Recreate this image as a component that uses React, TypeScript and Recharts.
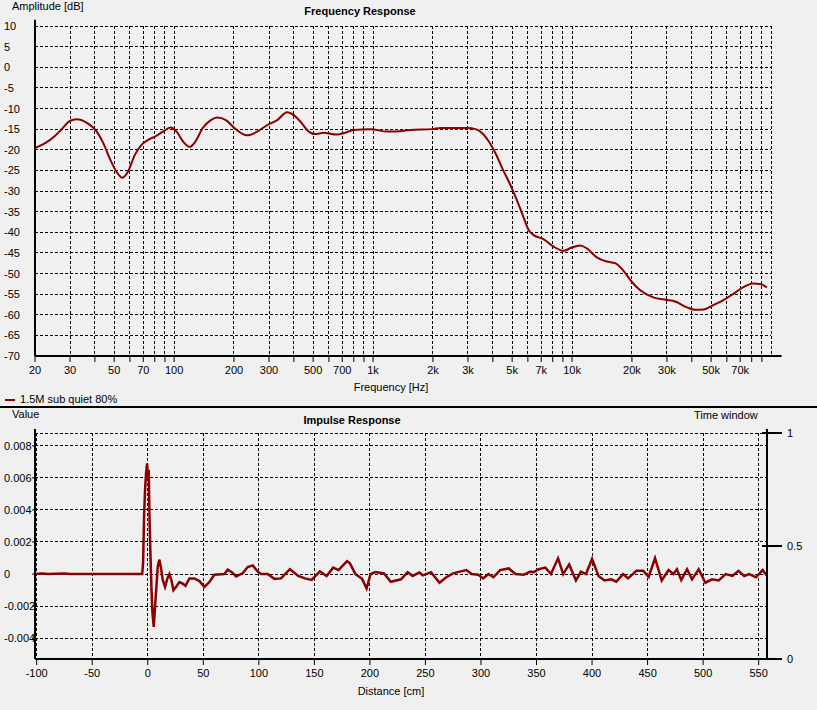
import {
  CartesianGrid,
  Line,
  LineChart,
  ReferenceLine,
  XAxis,
  YAxis,
} from 'recharts';

const FONT = '"Liberation Sans", Arial, sans-serif';
const RED = '#8b0000';

// frequency response
const FREQ_HZ = [
  20, 22.5, 25, 27, 30, 32.4, 36.3, 40.9, 44.1, 47.5, 51.3, 55, 58.7, 63.4, 68.6, 74.1, 81, 88, 96,
  103, 111, 120, 128, 139, 153, 165, 182, 204, 232, 262, 294, 330, 370, 400, 432, 475, 512, 564,
  659, 711, 800, 970, 1180, 1370, 1540, 1980, 2190, 2970, 3280, 3540, 3820, 4130, 4460, 4810,
  5200, 5610, 6060, 6420, 7210, 8080, 9070, 9970, 10980, 11860, 13320, 14940, 16450, 18110,
  19950, 21940, 25610, 29920, 32960, 37750, 41580, 45800, 51520, 57970, 65240, 73390, 80900,
  89000, 95400,
];
const FREQ_DB = [
  -19.6, -18.4, -16.8, -15.2, -13.0, -12.6, -13.4, -15.6, -18.4, -22.1, -25.3, -26.8, -25.3,
  -21.3, -18.8, -17.6, -16.7, -15.6, -14.6, -15.6, -18.0, -19.3, -18.0, -14.8, -12.8, -12.2,
  -12.8, -15.0, -16.5, -15.6, -14.0, -12.8, -10.9, -11.6, -13.2, -15.6, -16.2, -15.9, -16.3,
  -16.0, -15.2, -15.0, -15.6, -15.5, -15.2, -15.0, -14.7, -14.7, -15.0, -16.0, -18.0, -20.9,
  -24.5, -27.7, -31.4, -35.4, -39.5, -40.7, -41.7, -43.5, -44.5, -43.7, -43.2, -43.9, -46.1,
  -47.1, -47.5, -49.3, -52.0, -54.0, -55.8, -56.4, -56.8, -58.2, -58.8, -58.7, -57.6, -56.4,
  -54.8, -53.2, -52.4, -52.6, -53.4,
];

const FREQ_TICKS = [
  20, 30, 40, 50, 60, 70, 80, 90, 100, 200, 300, 400, 500, 600, 700, 800, 900, 1000, 2000, 3000,
  4000, 5000, 6000, 7000, 8000, 9000, 10000, 20000, 30000, 40000, 50000, 60000, 70000, 80000,
  90000,
];
const FREQ_LABELED = [20, 30, 50, 70, 100, 200, 300, 500, 700, 1000, 2000, 3000, 5000, 7000, 10000, 20000, 30000, 50000, 70000];
const DB_TICKS = [10, 5, 0, -5, -10, -15, -20, -25, -30, -35, -40, -45, -50, -55, -60, -65, -70];

// impulse response
const DIST_CM = [
  -101.5, -95, -90, -75, -70, -5, -4.2, -3.3, -2.4, -1.5, -0.6, 0.3, 0.9, 1.5, 2.4, 3.3, 4.2, 5.4,
  6.6, 7.8, 9, 10.5, 12, 13.5, 15.6, 17.7, 19.5, 21.3, 23.1, 25.5, 28.5, 31.5, 34, 37.5, 42, 46.5,
  51, 55.5, 60, 69, 72, 76, 79.6, 85.6, 90, 94.6, 99, 102, 108, 114, 120, 128, 135.5, 141.5, 147.6,
  155, 161, 167, 171.8, 179.4, 182, 187, 193, 197, 200.6, 205, 212.7, 218.8, 228, 234, 238.5,
  244.5, 247.6, 255, 262.7, 268.8, 274.8, 281, 287, 291.5, 297.6, 302, 306.7, 311.2, 317.3, 325,
  331, 338.5, 344.5, 347.6, 352, 358, 363, 369.4, 374, 379.4, 385.5, 390, 394.5, 400, 405.8,
  411.2, 417.3, 421.8, 428, 432.4, 440, 446, 451, 456.7, 462.7, 468.8, 473.3, 476.4, 480.3, 485.5,
  490, 496, 502, 508, 514, 520.3, 526.4, 531.8, 537, 541.5, 547.6, 553.6, 557.4,
];
const IMPULSE = [
  0, 0.00003, 0, 0.00004, 0, 0, 0.00067, 0.0036, 0.0053, 0.0063, 0.0069, 0.0059, 0.0065, 0.0038,
  0.0013, -0.0008, -0.0024, -0.0033, -0.002, -0.0008, 0.00046, 0.0009, 0.00035, -0.00037, -0.0008,
  -0.00027, 0, -0.00037, -0.001, -0.0008, -0.0005, -0.0006, -0.00073, -0.00027, -0.00027,
  -0.00044, -0.0008, -0.0005, -0.00004, 0, 0.00027, 0.0001, -0.00015, 0.00006, 0.00044, 0.00054,
  0.00015, 0, 0, -0.0003, -0.00027, 0.0003, -0.00012, -0.00027, -0.00037, 0.00017, -0.00012,
  0.0004, 0.00025, 0.0008, 0.00067, 0, -0.0003, -0.0009, 0, 0.00012, 0.00004, -0.00048, -0.00033,
  0.00012, -0.00012, 0.0001, -0.00008, 0.00012, -0.00054, -0.0002, 0.00004, 0.00015, 0.00025, 0,
  -0.00004, -0.00027, 0, -0.0002, 0.00025, 0.00035, 0, -0.00004, 0.00015, 0.00012, 0.0003, 0.0004,
  0, 0.00098, 0, 0.0006, -0.0004, 0.00015, 0, 0.00094, -0.00012, -0.0004, -0.00033, -0.00048, 0,
  -0.00027, 0.0002, 0.0002, -0.00017, 0.001, -0.0004, 0.00025, 0, 0.0003, -0.00037, 0.0003,
  -0.00033, 0.0003, -0.00054, -0.00033, -0.0004, 0, -0.00012, 0.0002, -0.00012, 0, -0.0002,
  0.00025, -0.0001,
];

const DIST_TICKS = [-100, -50, 0, 50, 100, 150, 200, 250, 300, 350, 400, 450, 500, 550];
const VALUE_TICKS = [0.008, 0.006, 0.004, 0.002, 0, -0.002, -0.004];
const WINDOW_TICKS = [0, 0.5, 1];

const freqData = FREQ_HZ.map((f, i) => ({ f, db: FREQ_DB[i] }));
const impulseData = DIST_CM.map((d, i) => ({ d, v: IMPULSE[i] }));

const fmtFreq = (v: number) =>
  FREQ_LABELED.includes(v) ? (v >= 1000 ? `${v / 1000}k` : String(v)) : '';

const LeftTick = (props: any) => (
  <text x={4} y={props.y} dy={4} fontSize={11} fill="#000" fontFamily={FONT} textAnchor="start">
    {String(props.payload.value)}
  </text>
);

const WindowTick = (props: any) => (
  <g>
    <line x1={props.x - 5} x2={props.x + 15} y1={props.y} y2={props.y} stroke="#000" strokeWidth={2} />
    <text x={props.x + 20} y={props.y} dy={4} fontSize={11} fill="#000" fontFamily={FONT}>
      {String(props.payload.value)}
    </text>
  </g>
);

const label = (top: number, left: number, text: string, bold = false, center = false) => (
  <div
    style={{
      position: 'absolute',
      top,
      left,
      fontSize: 11,
      lineHeight: '13px',
      fontWeight: bold ? 700 : 400,
      whiteSpace: 'nowrap',
      transform: center ? 'translateX(-50%)' : undefined,
      color: '#000',
    }}
  >
    {text}
  </div>
);

const grid = (
  <CartesianGrid stroke="#000" strokeDasharray="3 2" strokeWidth={1} shapeRendering="crispEdges" />
);
const tickStyle = { fontSize: 11, fill: '#000', fontFamily: FONT };
const axisLine = { stroke: '#000', strokeWidth: 2 };

export default function App() {
  return (
    <div
      style={{
        position: 'absolute',
        left: 0,
        top: 0,
        width: 817,
        height: 710,
        background: '#f0f0f0',
        fontFamily: FONT,
        overflow: 'hidden',
      }}
    >
      <div style={{ position: 'absolute', left: 0, top: 0 }}>
        <LineChart width={817} height={407} data={freqData} margin={{ top: 26, right: 46, bottom: 0, left: 0 }}>
          {grid}
          <XAxis
            dataKey="f"
            type="number"
            scale="log"
            domain={[20, 100000]}
            allowDataOverflow
            ticks={FREQ_TICKS}
            interval={0}
            tickFormatter={fmtFreq}
            height={51}
            tickSize={6}
            tickMargin={4}
            tick={tickStyle}
            tickLine={{ stroke: '#000' }}
            axisLine={axisLine}
          />
          <YAxis
            type="number"
            domain={[-70, 10]}
            ticks={DB_TICKS}
            interval={0}
            width={35}
            tickLine={false}
            axisLine={axisLine}
            tick={<LeftTick />}
          />
          <ReferenceLine
            segment={[{ x: 100000, y: -70 }, { x: 113000, y: -70 }]}
            ifOverflow="visible"
            stroke="#000"
            strokeWidth={2}
          />
          <ReferenceLine
            segment={[{ x: 20, y: 10 }, { x: 20, y: 11.5 }]}
            ifOverflow="visible"
            stroke="#000"
            strokeWidth={2}
          />
          <Line
            type="monotone"
            dataKey="db"
            stroke={RED}
            strokeWidth={2}
            dot={false}
            isAnimationActive={false}
          />
        </LineChart>
      </div>

      {label(0, 12, 'Amplitude [dB]')}
      {label(5, 360, 'Frequency Response', true, true)}
      {label(381, 391, 'Frequency [Hz]', false, true)}
      <div style={{ position: 'absolute', left: 5, top: 399, width: 10, height: 2, background: RED }} />
      {label(393, 20, '1.5M sub quiet 80%')}
      <div style={{ position: 'absolute', left: 0, top: 406, width: 817, height: 2, background: '#000' }} />

      {label(408, 12, 'Value')}
      {label(414, 352, 'Impulse Response', true, true)}
      {label(409, 694, 'Time window')}
      {label(685, 391, 'Distance [cm]', false, true)}

      <div style={{ position: 'absolute', left: 0, top: 407 }}>
        <LineChart width={817} height={303} data={impulseData} margin={{ top: 26, right: 0, bottom: 0, left: 0 }}>
          {grid}
          <XAxis
            dataKey="d"
            type="number"
            domain={[-101.5, 557.5]}
            allowDataOverflow
            ticks={DIST_TICKS}
            interval={0}
            height={51}
            tickSize={6}
            tickMargin={4}
            tick={tickStyle}
            tickLine={{ stroke: '#000' }}
            axisLine={axisLine}
          />
          <YAxis
            type="number"
            domain={[-0.0053, 0.0088]}
            allowDataOverflow
            ticks={VALUE_TICKS}
            interval={0}
            width={35}
            tickSize={3}
            tickLine={{ stroke: '#000' }}
            axisLine={axisLine}
            tick={<LeftTick />}
          />
          <YAxis
            yAxisId="tw"
            orientation="right"
            type="number"
            domain={[0, 1]}
            allowDataOverflow
            ticks={WINDOW_TICKS}
            interval={0}
            width={50}
            tickSize={0}
            tickMargin={0}
            tickLine={false}
            axisLine={axisLine}
            tick={<WindowTick />}
          />
          <ReferenceLine
            segment={[{ x: 557.5, y: -0.0053 }, { x: 571, y: -0.0053 }]}
            ifOverflow="visible"
            stroke="#000"
            strokeWidth={2}
          />
          <ReferenceLine
            segment={[{ x: -101.5, y: 0.0088 }, { x: -101.5, y: 0.00905 }]}
            ifOverflow="visible"
            stroke="#000"
            strokeWidth={2}
          />
          <ReferenceLine
            segment={[{ x: 557.5, y: 0.0088 }, { x: 557.5, y: 0.00905 }]}
            ifOverflow="visible"
            stroke="#000"
            strokeWidth={2}
          />
          <Line
            type="linear"
            dataKey="v"
            stroke={RED}
            strokeWidth={2.5}
            dot={false}
            isAnimationActive={false}
          />
        </LineChart>
      </div>
    </div>
  );
}
